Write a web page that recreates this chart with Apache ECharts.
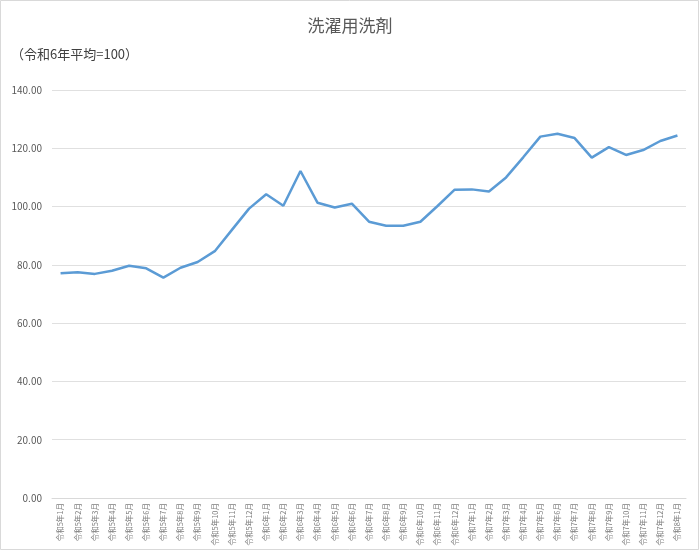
<!DOCTYPE html>
<html>
<head>
<meta charset="utf-8">
<script src="https://cdn.jsdelivr.net/npm/echarts@6/dist/echarts.min.js"></script>
<style>
html,body{margin:0;padding:0;background:#fff;}
#c{width:700px;height:551px;}
</style>
</head>
<body>
<div id="c"></div>
<script>
const categories = [
  '令和5年1月','令和5年2月','令和5年3月','令和5年4月','令和5年5月','令和5年6月',
  '令和5年7月','令和5年8月','令和5年9月','令和5年10月','令和5年11月','令和5年12月',
  '令和6年1月','令和6年2月','令和6年3月','令和6年4月','令和6年5月','令和6年6月',
  '令和6年7月','令和6年8月','令和6年9月','令和6年10月','令和6年11月','令和6年12月',
  '令和7年1月','令和7年2月','令和7年3月','令和7年4月','令和7年5月','令和7年6月',
  '令和7年7月','令和7年8月','令和7年9月','令和7年10月','令和7年11月','令和7年12月',
  '令和8年1月'
];
const values = [
  77.1, 77.5, 76.9, 78.0, 79.7, 78.8, 75.6, 79.0, 81.0, 84.7, 92.0, 99.3,
  104.2, 100.3, 112.2, 101.3, 99.7, 101.0, 94.8, 93.4, 93.4, 94.8, 100.2, 105.8,
  105.9, 105.2, 110.0, 116.9, 124.0, 125.0, 123.5, 116.8, 120.4, 117.7, 119.4, 122.5,
  124.4
];
const titleText = '洗濯用洗剤';
const subtitleText = '（令和6年平均=100）';

const chart = echarts.init(document.getElementById('c'));
chart.setOption({
  animation: false,
  backgroundColor: '#fff',
  textStyle: { fontFamily: '"Noto Sans CJK JP", "Noto Sans", sans-serif' },
  title: {
    text: titleText,
    left: 'center',
    top: 12,
    textStyle: { fontSize: 17, fontWeight: 'normal', color: '#595959', fontFamily: '"Noto Sans CJK JP", sans-serif' }
  },
  graphic: [
    {
      type: 'rect',
      shape: { x: 0.5, y: 0.5, width: 698, height: 549 },
      style: { fill: 'none', stroke: '#d9d9d9', lineWidth: 1 },
      silent: true
    },
    {
      type: 'text',
      left: 11,
      top: 48,
      style: { text: subtitleText, fontSize: 13, fill: '#404040', fontFamily: '"Noto Sans CJK JP", sans-serif' }
    }
  ],
  grid: { left: 52, right: 14, top: 90, bottom: 53, containLabel: false },
  xAxis: {
    type: 'category',
    data: categories,
    boundaryGap: true,
    axisLine: { lineStyle: { color: '#d9d9d9' } },
    axisTick: { show: false },
    axisLabel: { rotate: 90, interval: 0, fontSize: 7.5, color: '#7f7f7f', margin: 5,
      fontFamily: '"Noto Sans CJK JP", sans-serif' }
  },
  yAxis: {
    type: 'value',
    min: 0, max: 140, interval: 20,
    axisLine: { show: false },
    axisTick: { show: false },
    splitLine: { lineStyle: { color: '#e0e0e0' } },
    axisLabel: { fontSize: 10, color: '#595959', margin: 10, formatter: v => v.toFixed(2) }
  },
  series: [{
    type: 'line',
    data: values,
    symbol: 'none',
    lineStyle: { color: '#5B9BD5', width: 2.5 },
    itemStyle: { color: '#5B9BD5' }
  }]
});
</script>
</body>
</html>
